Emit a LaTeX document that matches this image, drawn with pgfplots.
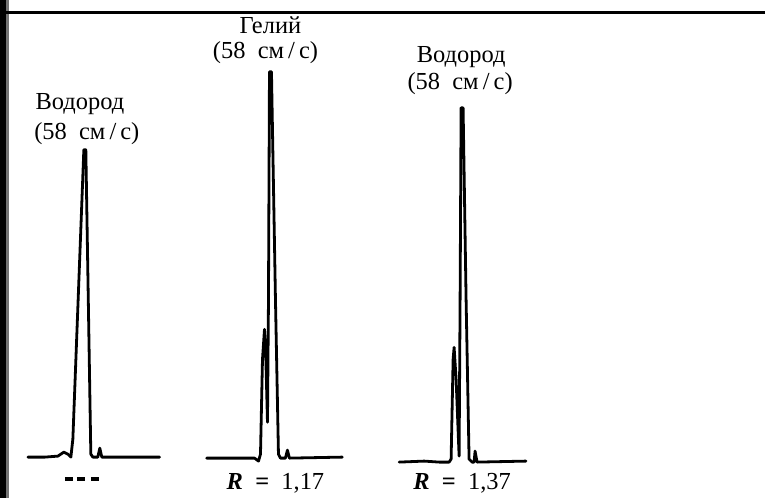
\documentclass[border=0pt]{standalone}
\usepackage{pgfplots}
\pgfplotsset{compat=1.18}
\usepackage{fontspec}
\setmainfont{Liberation Serif}
\tikzset{lbl/.style={inner sep=0pt, font=\fontsize{24.5}{28}\selectfont}}
\begin{document}
\begin{tikzpicture}
\begin{axis}[
  width=766pt, height=499pt, scale only axis,
  xmin=0, xmax=766, ymin=0, ymax=499, y dir=reverse,
  axis lines=none, ticks=none, clip=false,
]
% left scan shadow and top rule
\fill[black] (axis cs:0,0) rectangle (axis cs:6,499);
\fill[black!55] (axis cs:6,0) rectangle (axis cs:9,499);
\draw[line width=3pt] (axis cs:6,13) -- (axis cs:766,13);
\path (rel axis cs:0,0) (rel axis cs:1,1);
% trace 1: hydrogen
\addplot[black, no markers, line width=2.8pt, line join=round, line cap=round] coordinates {(28,458) (45,458) (58,457) (64,453) (68,455) (71,458) (73,440) (84,150) (86,150) (91,455) (93,458) (98,458) (100,449) (102,458) (160,458)};
% trace 2: helium
\addplot[black, no markers, line width=2.8pt, line join=round, line cap=round] coordinates {(207,459) (230,459) (255,459) (259,462) (261,455) (263,360) (265,330) (266,345) (268,423) (269,300) (270,72) (272,72) (276,300) (279,455) (281,459) (286,459) (288,451) (290,459) (343,458)};
% trace 3: hydrogen
\addplot[black, no markers, line width=2.8pt, line join=round, line cap=round] coordinates {(400,463) (425,462) (440,463) (450,463) (452,460) (454,360) (455,348) (457,380) (460,457) (461,300) (462,108) (464,108) (467,300) (470,460) (473,463) (475,463) (476,452) (478,463) (527,462)};
% labels
\node[lbl] at (axis cs:80,104) {Водород};
\node[lbl] at (axis cs:87,134) {(58~~см\,/\,с)};
\node[lbl] at (axis cs:271,25) {Гелий};
\node[lbl] at (axis cs:266,53) {(58~~см\,/\,с)};
\node[lbl] at (axis cs:462,57) {Водород};
\node[lbl] at (axis cs:461,84) {(58~~см\,/\,с)};
\node[lbl] at (axis cs:276,484) {\textbf{\textit{R}}~~\textbf{=}~~1,17};
\node[lbl] at (axis cs:463,484) {\textbf{\textit{R}}~~\textbf{=}~~1,37};
\node at (axis cs:82,480) {\rule{8pt}{4pt}\hspace{4pt}\rule{8pt}{4pt}\hspace{6pt}\rule{8pt}{4pt}};
\end{axis}
\end{tikzpicture}
\end{document}
